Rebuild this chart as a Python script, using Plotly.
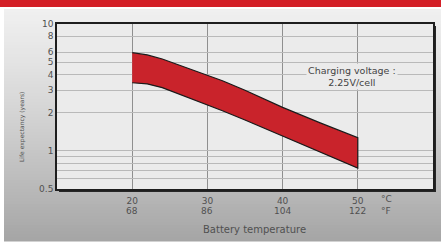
import math
import plotly.graph_objects as go

# ---- data ----
temps = [20, 22, 24, 26, 28, 30, 32, 35, 40, 45, 50]
life_upper = [5.94, 5.7, 5.3, 4.8, 4.33, 3.95, 3.57, 3.0, 2.2, 1.66, 1.27]
life_lower = [3.44, 3.37, 3.15, 2.87, 2.56, 2.3, 2.07, 1.75, 1.3, 0.98, 0.73]
x_ticks_c = [20, 30, 40, 50]
x_ticks_f = [68, 86, 104, 122]
y_ticks = [0.5, 1, 2, 3, 4, 5, 6, 8, 10]
y_minor = [0.6, 0.7, 0.8, 0.9]

W, H = 441, 249
L, R, T, B = 57, 8, 24, 60
PW, PH = W - L - R, H - T - B


def px(xp):
    return (xp - L) / PW


def py(yp):
    return (H - B - yp) / PH


def hexmix(c1, c2, t):
    a = [int(c1[i:i + 2], 16) for i in (1, 3, 5)]
    b = [int(c2[i:i + 2], 16) for i in (1, 3, 5)]
    return "#" + "".join(f"{round(a[k] + (b[k] - a[k]) * t):02x}" for k in range(3))


stops = [(9, "#f0f0f0"), (60, "#e4e4e4"), (120, "#d2d2d2"), (180, "#bcbcbc"), (241, "#a5a5a5")]


def grad_color(y):
    for (y0, c0), (y1, c1) in zip(stops, stops[1:]):
        if y0 <= y <= y1:
            return hexmix(c0, c1, (y - y0) / (y1 - y0))
    return stops[-1][1]


shapes = []
step = 3
y = 9
while y < 241:
    y2 = min(y + step, 241)
    shapes.append(dict(type="rect", xref="paper", yref="paper", layer="below",
                       x0=px(4), x1=px(441), y0=py(y2 + 0.5), y1=py(y),
                       fillcolor=grad_color((y + y2) / 2), line=dict(width=0)))
    y = y2
# red top bar
shapes.append(dict(type="rect", xref="paper", yref="paper", layer="below",
                   x0=px(0), x1=px(441), y0=py(7), y1=py(0),
                   fillcolor="#d42027", line=dict(width=0)))
# drop shadow of the frame
shapes.append(dict(type="rect", xref="paper", yref="paper", layer="below",
                   x0=px(L + 2), x1=px(L + PW + 3), y0=py(H - B + 3), y1=py(T + 2),
                   fillcolor="#262626", line=dict(width=0)))
# plot background
shapes.append(dict(type="rect", xref="paper", yref="paper", layer="below",
                   x0=0, x1=1, y0=0, y1=1, fillcolor="#ebebeb", line=dict(width=0)))

fig = go.Figure()
fig.add_trace(go.Scatter(
    x=temps + temps[::-1],
    y=life_upper + life_lower[::-1],
    fill="toself", fillcolor="#c9232b",
    line=dict(color="#1a1a1a", width=1.2),
    mode="lines", hoverinfo="skip", showlegend=False,
))

FONT = "DejaVu Sans, Liberation Sans, sans-serif"
xtick_font = dict(family=FONT, size=9, color="#505050")
ytick_font = dict(family=FONT, size=9, color="#505050")

yvals = y_ticks + y_minor
ytext = [("0.5" if v == 0.5 else str(int(v))) for v in y_ticks] + ["" for _ in y_minor]

annotations = [
    dict(text="Charging voltage :<br>2.25V/cell", xref="paper", yref="paper",
         x=px(352), y=py(76), xanchor="center", yanchor="middle", showarrow=False,
         bgcolor="#ebebeb", borderpad=1,
         font=dict(family=FONT, size=9.5, color="#444444")),
    dict(text="°C", xref="paper", yref="paper", x=px(386), y=py(199),
         xanchor="center", yanchor="middle", showarrow=False, font=xtick_font),
    dict(text="°F", xref="paper", yref="paper", x=px(386), y=py(210.5),
         xanchor="center", yanchor="middle", showarrow=False, font=xtick_font),
    dict(text="Battery temperature", xref="paper", yref="paper", x=px(254), y=py(229),
         xanchor="center", yanchor="middle", showarrow=False,
         font=dict(family=FONT, size=10, color="#505050")),
    dict(text="Life expectancy (years)", xref="paper", yref="paper", x=px(22), y=py(127),
         xanchor="center", yanchor="middle", textangle=-90, showarrow=False,
         font=dict(family=FONT, size=6, color="#505050")),
]
# Fahrenheit row under the Celsius tick labels
for c, f in zip(x_ticks_c, x_ticks_f):
    annotations.append(dict(text=str(f), xref="x", yref="paper", x=c, y=py(210.5),
                            xanchor="center", yanchor="middle", showarrow=False,
                            font=xtick_font))

fig.update_layout(
    width=W, height=H, autosize=False,
    margin=dict(l=L, r=R, t=T, b=B, pad=0),
    paper_bgcolor="#ffffff", plot_bgcolor="#ebebeb",
    shapes=shapes,
    xaxis=dict(range=[10, 60], tickvals=x_ticks_c, ticktext=[str(c) for c in x_ticks_c],
               showgrid=True, gridcolor="#8f8f8f", gridwidth=1, zeroline=False,
               showline=True, mirror=True, linecolor="#1e1e1e", linewidth=1.5,
               ticks="", tickfont=xtick_font, fixedrange=True, automargin=False,
               ticklabelstandoff=2),
    yaxis=dict(type="log", range=[math.log10(0.5), 1], tickvals=yvals, ticktext=ytext,
               showgrid=True, gridcolor="#b9b9b9", gridwidth=1, zeroline=False,
               showline=True, mirror=True, linecolor="#1e1e1e", linewidth=1.5,
               ticks="", tickfont=ytick_font, fixedrange=True, automargin=False),
    annotations=annotations,
)

fig.write_html("out.html", config={"displayModeBar": False},
               post_script="document.body.style.margin='0';")
